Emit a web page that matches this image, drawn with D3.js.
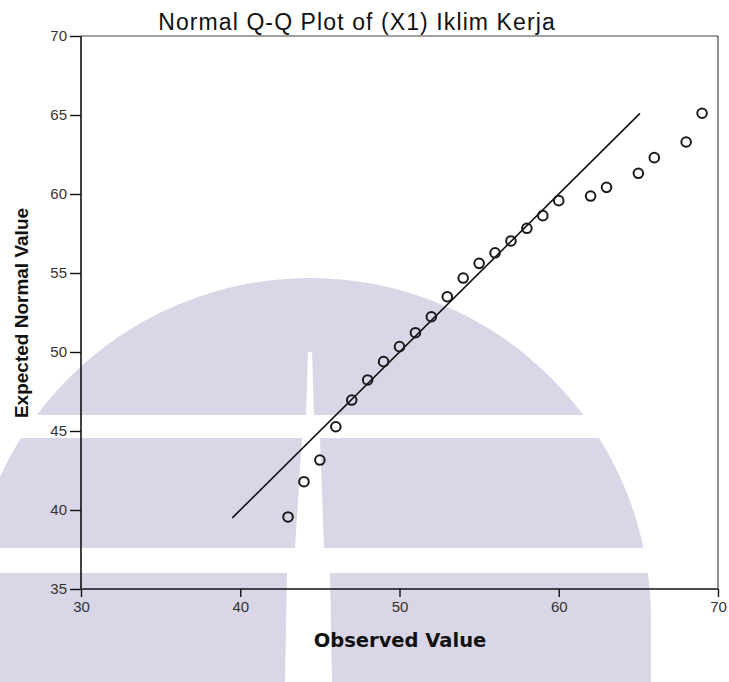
<!DOCTYPE html>
<html>
<head>
<meta charset="utf-8">
<script src="https://cdn.jsdelivr.net/npm/d3@7"></script>
<style>
  html, body { margin: 0; padding: 0; background: #fff; }
  svg { display: block; }
</style>
</head>
<body>
<svg id="chart" width="729" height="682"></svg>
<script>
// Observed scores and their expected normal quantiles
const observed = [43, 44, 45, 46, 47, 48, 49, 50, 51, 52, 53, 54, 55, 56, 57, 58, 59, 60, 62, 63, 65, 66, 68, 69];
const expected = [39.56, 41.79, 43.16, 45.27, 46.96, 48.23, 49.39, 50.34, 51.22, 52.23, 53.50, 54.68,
                  55.61, 56.28, 57.03, 57.83, 58.63, 59.58, 59.87, 60.42, 61.31, 62.30, 63.29, 65.11];
// Reference line y = x, spanning the expected-value range
const refLine = [39.5, 65.1];
const xTicks = [30, 40, 50, 60, 70];
const yTicks = [35, 40, 45, 50, 55, 60, 65, 70];

const svg = d3.select("#chart");
const W = 729, H = 682;
const plotL = 81, plotR = 718, plotT = 36, plotB = 589;

// Background emblem (soft lavender dome cut by white bands)
const emblem = svg.append("g");
const cx = 310, cy = 619, R = 341;
const domePath = d3.path();
domePath.moveTo(cx - R, cy);
domePath.arc(cx, cy, R, Math.PI, 2 * Math.PI);
domePath.lineTo(cx + R, H + 5);
domePath.lineTo(cx - R, H + 5);
domePath.closePath();
emblem.append("path").attr("d", domePath.toString()).attr("fill", "#d8d6e7");
// horizontal white cuts
[[415, 438], [548, 573]].forEach(([a, b]) => {
  emblem.append("rect").attr("x", 0).attr("y", a).attr("width", W).attr("height", b - a).attr("fill", "#fff");
});
// vertical white road widening downward
const road = [
  [[308, 352], [312, 352], [314, 415], [306, 415]],
  [[302, 438], [320, 438], [324, 548], [295, 548]],
  [[287, 573], [330, 573], [332, H], [285, H]]
];
road.forEach(pts => {
  emblem.append("polygon").attr("points", pts.map(p => p.join(",")).join(" ")).attr("fill", "#fff");
});

const x = d3.scaleLinear().domain([30, 70]).range([plotL, plotR]);
const y = d3.scaleLinear().domain([35, 70]).range([plotB, plotT]);

// frame (top and right)
svg.append("line").attr("x1", plotL).attr("x2", plotR).attr("y1", plotT).attr("y2", plotT)
  .attr("stroke", "#444").attr("stroke-width", 1.2);
svg.append("line").attr("x1", plotR).attr("x2", plotR).attr("y1", plotT).attr("y2", plotB)
  .attr("stroke", "#444").attr("stroke-width", 1.2);

// axes
const xAxis = d3.axisBottom(x).tickValues(xTicks).tickSize(8).tickPadding(4).tickFormat(d3.format("d"));
const yAxis = d3.axisLeft(y).tickValues(yTicks).tickSize(11).tickPadding(3).tickFormat(d3.format("d"));

const gx = svg.append("g").attr("transform", `translate(0,${plotB})`).call(xAxis);
const gy = svg.append("g").attr("transform", `translate(${plotL},0)`).call(yAxis);
[gx, gy].forEach(g => {
  g.select(".domain").attr("stroke", "#111").attr("stroke-width", 1.6);
  g.selectAll(".tick line").attr("stroke", "#111").attr("stroke-width", 1.4);
  g.selectAll(".tick text").attr("font-family", "Liberation Sans, Arial, sans-serif")
    .attr("font-size", 15).attr("fill", "#333");
});
gy.select(".domain").attr("d", `M0,${plotB}V${plotT}`);
gx.select(".domain").attr("d", `M${plotL},0H${plotR}`);

// reference line
svg.append("line")
  .attr("x1", x(refLine[0])).attr("y1", y(refLine[0]))
  .attr("x2", x(refLine[1])).attr("y2", y(refLine[1]))
  .attr("stroke", "#111").attr("stroke-width", 1.6);

// points
svg.append("g").selectAll("circle")
  .data(observed.map((o, i) => [o, expected[i]]))
  .join("circle")
  .attr("cx", d => x(d[0])).attr("cy", d => y(d[1]))
  .attr("r", 4.8)
  .attr("fill", "none").attr("stroke", "#1a1a1a").attr("stroke-width", 2);

// titles
svg.append("text").attr("x", 357).attr("y", 30).attr("text-anchor", "middle")
  .attr("font-family", "Liberation Sans, Arial, sans-serif").attr("font-size", 23)
  .attr("letter-spacing", 1.1).attr("fill", "#111")
  .text("Normal Q-Q Plot of (X1) Iklim Kerja");
svg.append("text").attr("x", 400).attr("y", 647).attr("text-anchor", "middle")
  .attr("font-family", "DejaVu Sans, Verdana, sans-serif").attr("font-weight", "bold")
  .attr("font-size", 19.5).attr("fill", "#111")
  .text("Observed Value");
svg.append("text").attr("transform", "translate(28,313) rotate(-90)").attr("text-anchor", "middle")
  .attr("font-family", "Liberation Sans, Arial, sans-serif").attr("font-weight", "bold")
  .attr("font-size", 19).attr("fill", "#111")
  .text("Expected Normal Value");
</script>
</body>
</html>
